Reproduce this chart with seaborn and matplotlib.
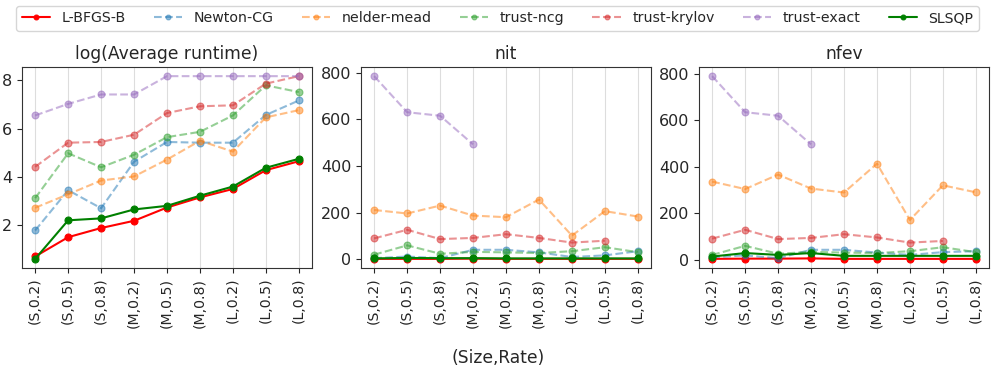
import numpy as np
import pandas as pd
import seaborn as sns
import matplotlib
matplotlib.use("Agg")
import matplotlib.pyplot as plt

# categories on the x axis
groups = ["(S,0.2)", "(S,0.5)", "(S,0.8)", "(M,0.2)", "(M,0.5)", "(M,0.8)",
          "(L,0.2)", "(L,0.5)", "(L,0.8)"]
methods = ["L-BFGS-B", "Newton-CG", "nelder-mead", "trust-ncg",
           "trust-krylov", "trust-exact", "SLSQP"]
nan = np.nan

# log(Average runtime)
rt_lbfgsb = [0.70, 1.50, 1.88, 2.18, 2.73, 3.15, 3.50, 4.28, 4.65]
rt_newton = [1.78, 3.45, 2.70, 4.63, 5.45, 5.42, 5.42, 6.57, 7.17]
rt_nelder = [2.72, 3.28, 3.85, 4.02, 4.72, 5.50, 5.05, 6.47, 6.77]
rt_tncg = [3.12, 4.98, 4.40, 4.92, 5.65, 5.87, 6.55, 7.80, 7.52]
rt_tkrylov = [4.42, 5.42, 5.45, 5.75, 6.65, 6.93, 6.97, 7.87, 8.18]
rt_texact = [6.55, 7.03, 7.42, 7.42, 8.18, 8.18, 8.18, 8.18, 8.18]
rt_slsqp = [0.60, 2.20, 2.28, 2.65, 2.80, 3.22, 3.60, 4.38, 4.75]

# nit
nit_lbfgsb = [1, 1, 1, 2, 1, 1, 1, 1, 1]
nit_newton = [4, 11, 4, 40, 40, 29, 9, 16, 34]
nit_nelder = [211, 196, 230, 187, 180, 256, 101, 206, 183]
nit_tncg = [19, 59, 23, 31, 29, 26, 34, 51, 30]
nit_tkrylov = [89, 126, 86, 91, 107, 91, 71, 79, nan]
nit_texact = [786, 631, 616, 493, nan, nan, nan, nan, nan]
nit_slsqp = [3, 5, 4, 4, 3, 3, 3, 3, 3]

# nfev
nfev_lbfgsb = [4, 5, 5, 6, 4, 4, 4, 4, 4]
nfev_newton = [11, 19, 7, 43, 43, 31, 21, 33, 37]
nfev_nelder = [336, 304, 366, 306, 289, 413, 171, 320, 290]
nfev_tncg = [21, 60, 26, 34, 31, 29, 37, 54, 33]
nfev_tkrylov = [91, 129, 89, 94, 110, 96, 74, 81, nan]
nfev_texact = [789, 634, 619, 496, nan, nan, nan, nan, nan]
nfev_slsqp = [14, 29, 21, 29, 17, 17, 17, 17, 17]

panels = [
    ("log(Average runtime)", [rt_lbfgsb, rt_newton, rt_nelder, rt_tncg, rt_tkrylov, rt_texact, rt_slsqp]),
    ("nit", [nit_lbfgsb, nit_newton, nit_nelder, nit_tncg, nit_tkrylov, nit_texact, nit_slsqp]),
    ("nfev", [nfev_lbfgsb, nfev_newton, nfev_nelder, nfev_tncg, nfev_tkrylov, nfev_texact, nfev_slsqp]),
]

styles = {
    "L-BFGS-B": dict(color="red", linestyle="-", alpha=1.0),
    "Newton-CG": dict(color="tab:blue", linestyle="--", alpha=0.5),
    "nelder-mead": dict(color="tab:orange", linestyle="--", alpha=0.5),
    "trust-ncg": dict(color="tab:green", linestyle="--", alpha=0.5),
    "trust-krylov": dict(color="tab:red", linestyle="--", alpha=0.5),
    "trust-exact": dict(color="tab:purple", linestyle="--", alpha=0.5),
    "SLSQP": dict(color="green", linestyle="-", alpha=1.0),
}

sns.set_style("ticks")
plt.rcParams["font.family"] = ["DejaVu Sans"]

fig = plt.figure(figsize=(9.96, 3.75), dpi=100)
lefts = [22 / 996, 361 / 996, 699 / 996]
axes = [fig.add_axes([l, 0.2853, 290 / 996, 0.536]) for l in lefts]

for ax, (title, series) in zip(axes, panels):
    for name, vals in zip(methods, series):
        df = pd.DataFrame({"x": groups, "y": vals}).dropna()
        sns.lineplot(data=df, x="x", y="y", ax=ax, marker="o", markersize=5,
                     markeredgewidth=0.8, markeredgecolor=styles[name]["color"],
                     linewidth=1.5, label=name, sort=False, **styles[name])
    ax.set_xticks(range(len(groups)))
    ax.set_xticklabels(groups, rotation=90)
    ax.set_xlim(-0.4, 8.4)
    ax.set_title(title, fontsize=12.3)
    ax.set_xlabel("")
    ax.set_ylabel("")
    ax.grid(axis="x", color="#dddddd", linewidth=0.8)
    ax.tick_params(axis="y", labelsize=11.5)
    ax.tick_params(axis="x", labelsize=10.2)
    ax.get_legend().remove()
    for s in ax.spines.values():
        s.set_color("#333333")

handles, labels = axes[0].get_legend_handles_labels()
fig.legend(handles, labels, loc="center", bbox_to_anchor=(0.4995, 0.951), ncol=7,
           fontsize=10.2, frameon=True, markerscale=0.7)
fig.text(0.5, 0.045, "(Size,Rate)", ha="center", va="center", fontsize=12.3)

fig.savefig("out.png", dpi=100)
